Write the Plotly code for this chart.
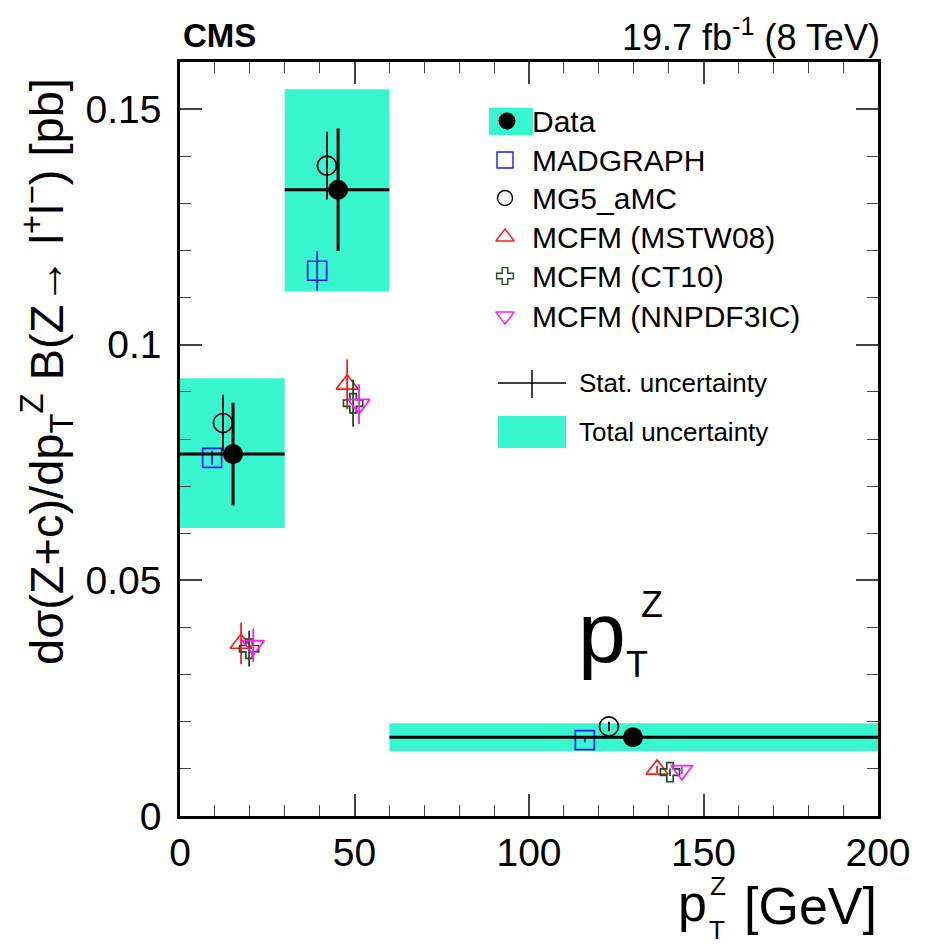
import plotly.graph_objects as go

# ---------------- data ----------------
bin_lo = [0, 30, 60]
bin_hi = [30, 60, 200]

data_x = [15.2, 45.3, 129.8]
data_y = [0.0768, 0.1329, 0.0167]
data_stat = [0.0109, 0.0130, 0.0010]
tot_lo = [0.0611, 0.1113, 0.0138]
tot_hi = [0.0929, 0.1542, 0.0197]

mg_x = [9.2, 39.3, 116.0]
mg_y = [0.0760, 0.1157, 0.0161]
mg_err = [0.0015, 0.0042, 0.0005]

amc_x = [12.3, 42.1, 122.9]
amc_y = [0.0834, 0.1380, 0.0190]
amc_err = [0.0060, 0.0072, 0.0010]

mstw_x = [17.5, 47.9, 136.7]
mstw_y = [0.0366, 0.0916, 0.0099]
mstw_err = [0.0044, 0.0053, 0.0008]

ct10_x = [19.8, 49.6, 140.4]
ct10_y = [0.0355, 0.0876, 0.0093]
ct10_err = [0.0038, 0.0050, 0.0008]

nnpdf_x = [21.0, 51.3, 143.8]
nnpdf_y = [0.0362, 0.0874, 0.0097]
nnpdf_err = [0.0036, 0.0042, 0.0008]

x_range = [0, 200]
y_range = [0, 0.16]
y_ticks = [0, 0.05, 0.1, 0.15]
y_ticktext = ["0", "0.05", "0.1", "0.15"]

CYAN = "#38F7CF"
FONT = "Liberation Sans, Arial, sans-serif"

# plot area in pixels
L, R, T, B = 180, 878, 62, 816


def px(x):
    return (x - L) / (R - L)


def py(y):
    return (B - y) / (B - T)


def dx(p):  # pixel -> data x (legend placement only)
    return x_range[0] + px(p) * (x_range[1] - x_range[0])


def dy(p):
    return y_range[0] + py(p) * (y_range[1] - y_range[0])


fig = go.Figure()

# total uncertainty boxes
fig.add_trace(go.Bar(
    x=[(a + b) / 2 for a, b in zip(bin_lo, bin_hi)],
    y=[h - l for l, h in zip(tot_lo, tot_hi)],
    base=tot_lo,
    width=[b - a for a, b in zip(bin_lo, bin_hi)],
    marker=dict(color=CYAN, line=dict(width=0)),
    showlegend=False, hoverinfo="skip"))


def mc(x, y, err, symbol, color, size=19, lw=1.7):
    fig.add_trace(go.Scatter(
        x=x, y=y, mode="markers",
        marker=dict(symbol=symbol, size=size, color=color,
                    line=dict(color=color, width=lw)),
        error_y=dict(type="data", array=err, color=color, thickness=1.8, width=0),
        showlegend=False))


mc(mg_x, mg_y, mg_err, "square-open", "#1a1aff", 19)
mc(amc_x, amc_y, amc_err, "circle-open", "black", 19)
mc(mstw_x, mstw_y, mstw_err, "triangle-up-open", "#ff1a1a", 19)
mc(ct10_x, ct10_y, ct10_err, "cross-open", "#1f4f1f", 16)
mc(nnpdf_x, nnpdf_y, nnpdf_err, "triangle-down-open", "#ff1aff", 19)

# data with stat errors
fig.add_trace(go.Scatter(
    x=data_x, y=data_y, mode="markers",
    marker=dict(symbol="circle", size=20, color="black"),
    error_y=dict(type="data", array=data_stat, color="black", thickness=3, width=0),
    error_x=dict(type="data", symmetric=False,
                 array=[h - x for h, x in zip(bin_hi, data_x)],
                 arrayminus=[x - l for l, x in zip(bin_lo, data_x)],
                 color="black", thickness=3, width=0),
    showlegend=False))

# ---------------- legend (drawn by hand) ----------------
fig.add_trace(go.Bar(
    x=[(dx(489) + dx(533)) / 2], y=[dy(108) - dy(135)], base=[dy(135)],
    width=[dx(533) - dx(489)],
    marker=dict(color=CYAN, line=dict(width=0)),
    showlegend=False, hoverinfo="skip"))
fig.add_trace(go.Bar(
    x=[(dx(498) + dx(566)) / 2], y=[dy(416) - dy(448)], base=[dy(448)],
    width=[dx(566) - dx(498)],
    marker=dict(color=CYAN, line=dict(width=0)),
    showlegend=False, hoverinfo="skip"))

leg_syms = ["square-open", "circle-open", "triangle-up-open", "cross-open", "triangle-down-open"]
leg_colors = ["#1a1aff", "black", "#ff1a1a", "#1f4f1f", "#ff1aff"]
leg_sizes = [16, 15, 16, 14, 16]
leg_px_y = [121, 160, 198, 237, 276, 316]
for sym, col, sz, yy in zip(leg_syms, leg_colors, leg_sizes, leg_px_y[1:]):
    fig.add_trace(go.Scatter(
        x=[dx(505)], y=[dy(yy)], mode="markers",
        marker=dict(symbol=sym, size=sz, color=col, line=dict(color=col, width=1.4)),
        showlegend=False, hoverinfo="skip"))
fig.add_trace(go.Scatter(
    x=[dx(507)], y=[dy(121)], mode="markers",
    marker=dict(symbol="circle", size=17, color="black", line=dict(color="black", width=0)),
    showlegend=False, hoverinfo="skip"))

shapes = [
    dict(type="line", xref="paper", yref="paper", x0=px(498), x1=px(566), y0=py(383), y1=py(383),
         line=dict(color="black", width=1.5)),
    dict(type="line", xref="paper", yref="paper", x0=px(532), x1=px(532), y0=py(398), y1=py(370),
         line=dict(color="black", width=1.5)),
]

annotations = []


def txt(x, y, text, size, xanchor="left", angle=0):
    annotations.append(dict(x=px(x), y=py(y), xref="paper", yref="paper", text=text,
                            showarrow=False, xanchor=xanchor, yanchor="middle",
                            textangle=angle,
                            font=dict(family=FONT, size=size, color="black")))


labels = ["Data", "MADGRAPH", "MG5_aMC", "MCFM (MSTW08)", "MCFM (CT10)", "MCFM (NNPDF3IC)"]
for lab, yy in zip(labels, leg_px_y):
    txt(530, yy, lab, 30)
txt(577, 383, "Stat. uncertainty", 26)
txt(577, 432, "Total uncertainty", 26)

# header texts
txt(181, 35, "<b>CMS</b>", 33)
txt(882, 35, "19.7 fb<sup>-1</sup> (8 TeV)", 36, xanchor="right")
# big pTZ label
txt(576, 632, "p", 86)
txt(624, 664, "T", 36)
txt(639, 604, "Z", 36)
# x axis title
txt(676, 903, "p", 52)
txt(707, 930, "T", 26)
txt(708, 886, "Z", 26)
txt(879, 906, "[GeV]", 52, xanchor="right")
# y axis title
txt(46, 372, "dσ(Z+c)/dp<sub>T</sub><sup>Z</sup> B(Z→ l<sup>+</sup>l<sup>−</sup>) [pb]", 47,
    xanchor="center", angle=-90)

axis_common = dict(ticks="inside", ticklen=22, tickwidth=1.5,
                   showgrid=False, zeroline=False, showline=True, linecolor="black",
                   linewidth=2.5, mirror="allticks", tickfont=dict(size=39, family=FONT))

fig.update_layout(
    width=928, height=946,
    margin=dict(l=L, r=928 - R, t=T, b=946 - B),
    paper_bgcolor="white", plot_bgcolor="white",
    barmode="overlay",
    font=dict(family=FONT, color="black"),
    shapes=shapes, annotations=annotations,
    xaxis=dict(range=x_range, dtick=50,
               minor=dict(dtick=10, ticks="inside", ticklen=11, tickwidth=1.2),
               **axis_common),
    yaxis=dict(range=y_range, tickvals=y_ticks, ticktext=y_ticktext,
               minor=dict(dtick=0.01, ticks="inside", ticklen=11, tickwidth=1.2),
               ticklabelstandoff=8,
               **axis_common),
)

fig.write_html("out.html")
